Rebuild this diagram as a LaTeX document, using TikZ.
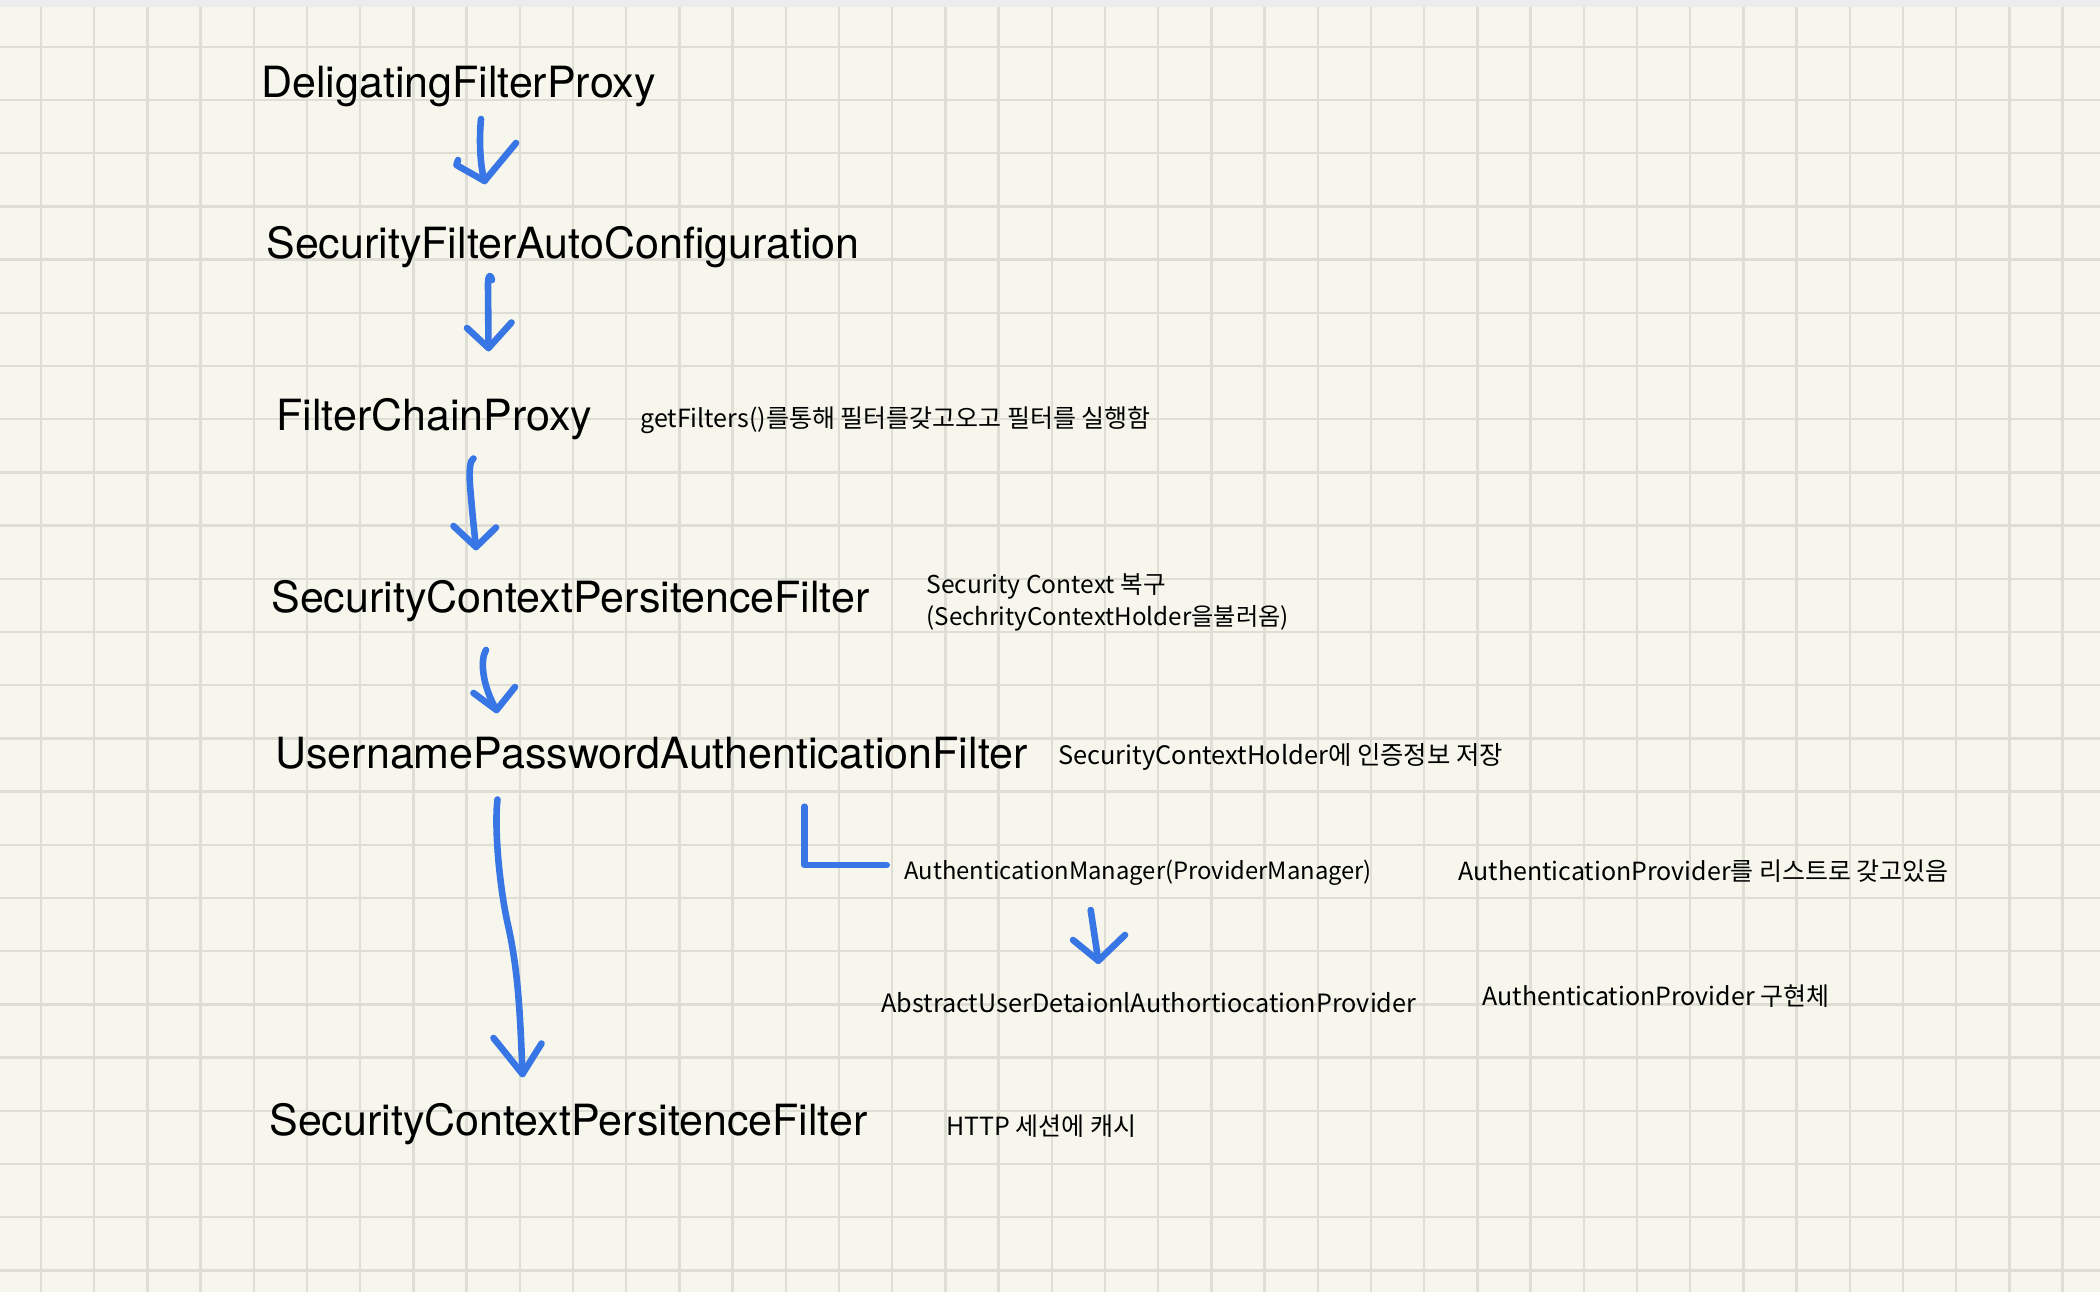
\documentclass[tikz,border=0pt]{standalone}
\usepackage{fontspec}
\setmainfont{TeX Gyre Heros}
\newfontfamily\kr{Noto Sans CJK KR}
\definecolor{bgc}{RGB}{246,246,236}
\definecolor{gridc}{RGB}{223,222,213}
\definecolor{topc}{RGB}{236,236,236}
\definecolor{penblue}{RGB}{56,118,229}
\tikzset{
  big/.style={anchor=base west, inner sep=0pt, font=\fontsize{21.5pt}{24pt}\selectfont},
  lab/.style={anchor=base west, inner sep=0pt, font=\kr\fontsize{#1}{#1}\selectfont},
  pen/.style={draw=penblue, line width=3.3pt, line cap=round, line join=round},
  gridline/.style={draw=gridc, line width=1.2pt}
}
\begin{document}
\begin{tikzpicture}[x=0.5pt,y=-0.5pt]
\useasboundingbox (0,0) rectangle (2100,1292);
\fill[bgc] (0,0) rectangle (2100,1292);
\foreach \i in {0,...,38} \draw[gridline] ({40.9+53.2*\i},0) -- ({40.9+53.2*\i},1292);
\foreach \j in {0,...,23} \draw[gridline] (0,{46.7+53.2*\j}) -- (2100,{46.7+53.2*\j});
\fill[topc] (0,0) rectangle (2100,6.5);

% main labels
\node[big] (n1) at (261,97) {DeligatingFilterProxy};
\node[big] (n2) at (266,258) {SecurityFilterAutoConfiguration};
\node[big] (n3) at (276,430) {FilterChainProxy};
\node[big] (n5) at (271,612) {SecurityContextPersitenceFilter};
\node[big] (n7) at (275,768) {UsernamePasswordAuthenticationFilter};
\node[big] (n13) at (269,1135) {SecurityContextPersitenceFilter};

% side labels
\node[lab=12.5pt] (n4) at (640,427) {getFilters()를통해 필터를갖고오고 필터를 실행함};
\node[lab=12.3pt] (n6a) at (926,593) {Security Context 복구};
\node[lab=12.1pt] (n6b) at (926,625) {(SechrityContextHolder을불러옴)};
\node[lab=12.7pt] (n8) at (1058,764) {SecurityContextHolder에 인증정보 저장};
\node[lab=11.9pt] (n9) at (904,879) {AuthenticationManager(ProviderManager)};
\node[lab=12.5pt] (n10) at (1458,880) {AuthenticationProvider를 리스트로 갖고있음};
\node[lab=12.6pt] (n11) at (881,1012) {AbstractUserDetaionlAuthortiocationProvider};
\node[lab=12.5pt] (n12) at (1482,1005) {AuthenticationProvider 구현체};
\node[lab=12.5pt] (n14) at (946,1135) {HTTP 세션에 캐시};

% arrow 1
\coordinate (a1s) at (481,119);
\coordinate (a1t) at (484.5,181);
\draw[pen] (a1s) .. controls (479,140) and (480,165) .. (a1t);
\draw[pen] (458,160) -- (456.5,165) .. controls (465,170) and (476,176) .. (a1t) -- (516,143);
% arrow 2
\coordinate (a2s) at (492,280);
\coordinate (a2t) at (488.5,348);
\draw[pen] (a2s) .. controls (491,274) and (488,274) .. (488,284) -- (a2t);
\draw[pen] (467,328) -- (a2t) -- (511.5,322.5);
% arrow 3
\coordinate (a3s) at (473.5,458.5);
\coordinate (a3t) at (476,547);
\draw[pen] (a3s) .. controls (470,460) and (469,470) .. (470,485) .. controls (472,510) and (474,530) .. (a3t);
\draw[pen] (453.5,526) -- (a3t) -- (496,527.5);
% arrow 4
\coordinate (a4s) at (486,650);
\coordinate (a4t) at (496.5,710);
\draw[pen] (a4s) .. controls (480,660) and (482,685) .. (a4t);
\draw[pen] (473.5,693) -- (a4t) -- (515,687);
% arrow 5 (long)
\coordinate (a5s) at (497.5,799.5);
\coordinate (a5t) at (522.5,1074);
\draw[pen] (a5s) .. controls (494,830) and (500,890) .. (508,925) .. controls (518,970) and (520,1010) .. (a5t);
\draw[pen] (493.5,1038) -- (a5t) -- (541.5,1043.5);
% L connector
\coordinate (ls) at (804.3,806.7);
\coordinate (le) at (886.7,865);
\draw[pen] (ls) |- (le);
% arrow 6
\coordinate (a6s) at (1090.7,910);
\coordinate (a6t) at (1098.3,960.7);
\draw[pen] (a6s) -- (a6t);
\draw[pen] (1073,940) -- (a6t) -- (1125,935);
\end{tikzpicture}
\end{document}
